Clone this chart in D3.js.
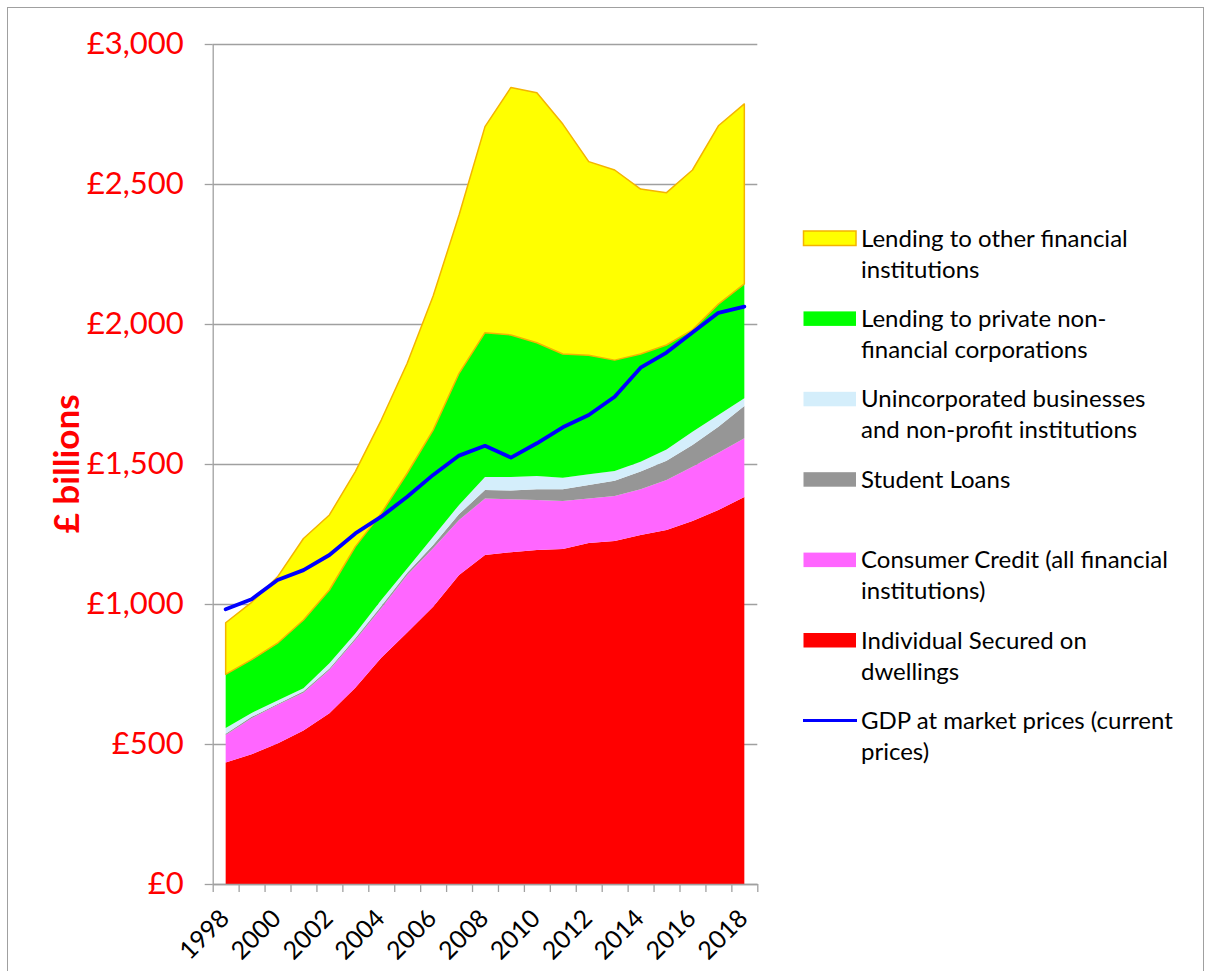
<!DOCTYPE html>
<meta charset="utf-8">
<head>
<style>
  body { margin:0; background:#fff; }
  svg { display:block; font-family: Lato, "Open Sans", sans-serif; }
</style>
</head>
<body>
<svg id="chart" width="1205" height="971"></svg>
<script src="https://d3js.org/d3.v7.min.js"></script>
<script>

// data (£ billions)
var years = [1998,1999,2000,2001,2002,2003,2004,2005,2006,2007,2008,2009,2010,2011,2012,2013,2014,2015,2016,2017,2018];
var dwellings      = [434,463,502,548,610,701,808,898,990,1104,1175,1185,1193,1196,1218,1225,1246,1264,1296,1336,1382];
var consumerCredit = [98,129,137,135,154,170,177,206,209,196,202,189,178,172,159,161,164,179,194,204,210];
var studentLoans   = [5,5,4,5,6,7,8,8,12,21,30,31,39,42,48,54,63,69,78,93,115];
var unincorporated = [20,14,12,11,18,17,21,15,29,33,47,49,47,41,38,35,35,40,47,42,28];
var pnfc           = [192,190,205,244,262,310,310,340,381,470,515,507,476,442,425,396,385,373,364,396,408];
var otherFinancial = [184,205,237,291,268,268,333,393,479,565,736,884,893,821,692,679,589,544,571,637,643];
var gdp            = [981,1017,1086,1121,1175,1252,1312,1383,1461,1530,1565,1523,1574,1631,1675,1740,1844,1898,1970,2040,2062];

var yTicks = [0,500,1000,1500,2000,2500,3000];
var xLabels = [1998,2000,2002,2004,2006,2008,2010,2012,2014,2016,2018];

var keys = ["dwellings","consumer","student","unincorp","pnfc","ofi"];
var fills = ["#FF0000","#FF66FF","#969696","#D4EEFB","#00FF00","#FFFF00"];

var legendItems = [
  {key:"ofi",      lines:["Lending to other financial","institutions"]},
  {key:"pnfc",     lines:["Lending to private non-","financial corporations"]},
  {key:"unincorp", lines:["Unincorporated businesses","and non-profit institutions"]},
  {key:"student",  lines:["Student  Loans"]},
  {key:"consumer", lines:["Consumer Credit (all financial","institutions)"]},
  {key:"dwellings",lines:["Individual Secured on","dwellings"]},
  {key:"gdp",      lines:["GDP at market prices (current","prices)"]}
];

var table = years.map(function(y, i){
  return {year:y, dwellings:dwellings[i], consumer:consumerCredit[i], student:studentLoans[i],
          unincorp:unincorporated[i], pnfc:pnfc[i], ofi:otherFinancial[i], gdp:gdp[i]};
});

var svg = d3.select("#chart");

// plot box
var plotLeft = 212.7, plotRight = 757.3, plotTop = 44, plotBottom = 884;

// chart border
svg.append("rect")
  .attr("x", 7.5).attr("y", 7.5)
  .attr("width", 1196).attr("height", 975)
  .attr("fill", "none")
  .attr("stroke", "#A0A0A0")
  .attr("stroke-width", 1);

var x = d3.scaleBand().domain(years).range([plotLeft, plotRight]).padding(0);
var xEdge = d3.scaleLinear().domain([0, years.length]).range([plotLeft, plotRight]);
var y = d3.scaleLinear().domain([0, 3000]).range([plotBottom, plotTop]);
function cx(d){ return x(d) + x.bandwidth()/2; }

var color = d3.scaleOrdinal().domain(keys).range(fills);

// gridlines
svg.append("g")
  .attr("transform", "translate(" + plotLeft + ",0)")
  .call(d3.axisLeft(y).tickValues(yTicks).tickSize(-(plotRight - plotLeft)).tickFormat(""))
  .call(function(g){ g.select(".domain").remove(); })
  .selectAll("line")
    .attr("stroke", "#A0A0A0")
    .attr("stroke-width", 1.3);

// stacked areas
var series = d3.stack().keys(keys)(table);

var area = d3.area()
  .x(function(d){ return cx(d.data.year); })
  .y0(function(d){ return y(d[0]); })
  .y1(function(d){ return y(d[1]); });

svg.append("g")
  .selectAll("path")
  .data(series)
  .enter()
  .append("path")
    .attr("d", area)
    .attr("fill", function(d){ return color(d.key); })
    .attr("stroke", function(d){ return d.key == "ofi" ? "#F4B400" : "none"; })
    .attr("stroke-width", 1.5)
    .attr("stroke-linejoin", "round");

// GDP line
var line = d3.line()
  .x(function(d){ return cx(d.year); })
  .y(function(d){ return y(d.gdp); });

svg.append("path")
  .datum(table)
  .attr("d", line)
  .attr("fill", "none")
  .attr("stroke", "#0000FF")
  .attr("stroke-width", 3.8)
  .attr("stroke-linejoin", "round")
  .attr("stroke-linecap", "round");

// y axis
var yAxis = svg.append("g")
  .attr("transform", "translate(" + plotLeft + ",0)")
  .call(d3.axisLeft(y).tickValues(yTicks).tickSize(8).tickSizeOuter(0).tickPadding(21)
        .tickFormat(function(d){ return "£" + d3.format(",")(d); }));
yAxis.select(".domain").attr("stroke", "#A0A0A0").attr("stroke-width", 1.3);
yAxis.selectAll("line").attr("stroke", "#A0A0A0").attr("stroke-width", 1.3);
yAxis.selectAll("text")
  .attr("fill", "#FF0000")
  .style("font-size", "31px")
  .style("font-family", "Lato");

// x axis: ticks between categories
var xAxis = svg.append("g")
  .attr("transform", "translate(0," + plotBottom + ")")
  .call(d3.axisBottom(xEdge).tickValues(d3.range(0, years.length + 1)).tickSize(8).tickSizeOuter(0).tickFormat(""));
xAxis.select(".domain").attr("stroke", "#A0A0A0").attr("stroke-width", 1.3);
xAxis.selectAll("line").attr("stroke", "#A0A0A0").attr("stroke-width", 1.3);

// x labels
svg.append("g")
  .selectAll("text")
  .data(xLabels)
  .enter()
  .append("text")
    .attr("transform", function(d){ return "translate(" + (cx(d) + 5) + "," + (plotBottom + 36) + ") rotate(-45)"; })
    .attr("text-anchor", "end")
    .style("font-size", "25px")
    .attr("fill", "#000")
    .text(function(d){ return d; });

// y title
svg.append("text")
  .attr("transform", "translate(79,464) rotate(-90)")
  .attr("text-anchor", "middle")
  .attr("fill", "#FF0000")
  .style("font-size", "35px")
  .style("font-weight", "bold")
  .text("£ billions");

// legend
var legend = svg.append("g")
  .selectAll("g")
  .data(legendItems)
  .enter()
  .append("g")
    .attr("transform", function(d, i){ return "translate(803," + (238 + i * 80.4) + ")"; });

legend.filter(function(d){ return d.key != "gdp"; })
  .append("rect")
    .attr("x", 0.5).attr("y", -7)
    .attr("width", 52.5).attr("height", 14.5)
    .attr("fill", function(d){ return color(d.key); })
    .attr("stroke", function(d){ return d.key == "ofi" ? "#F4B400" : "none"; })
    .attr("stroke-width", 1.5);

legend.filter(function(d){ return d.key == "gdp"; })
  .append("line")
    .attr("x1", 0).attr("x2", 54)
    .attr("stroke", "#0000FF")
    .attr("stroke-width", 3);

legend.append("text")
  .attr("x", 58)
  .style("font-size", "24px")
  .attr("fill", "#000")
  .selectAll("tspan")
  .data(function(d){ return d.lines; })
  .enter()
  .append("tspan")
    .attr("x", 58)
    .attr("y", function(d, i){ return i * 31 + 8.5; })
    .text(function(d){ return d; });

</script>
</body>
